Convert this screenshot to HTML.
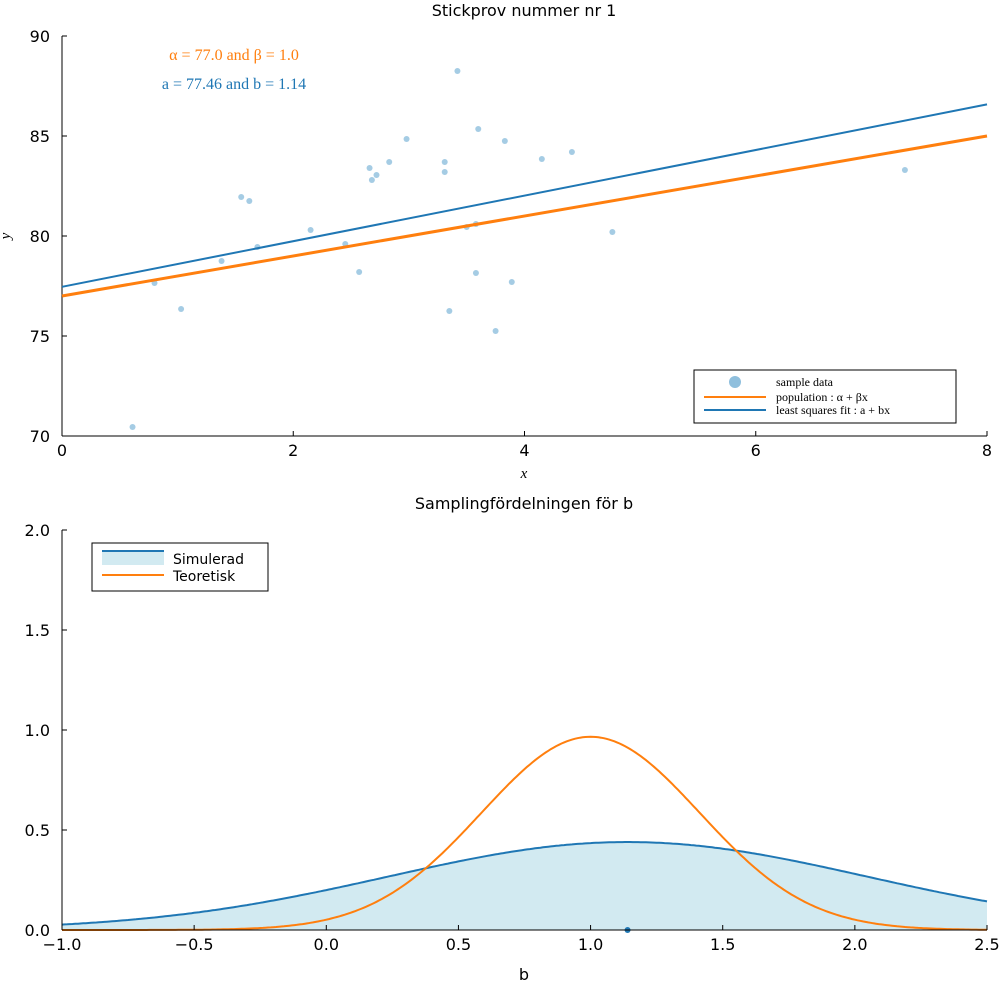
<!DOCTYPE html>
<html><head><meta charset="utf-8"><style>
body{margin:0;background:#fff}
svg text{font-family:"DejaVu Sans","Liberation Sans",sans-serif;}
.serif{font-family:"Liberation Serif","DejaVu Serif",serif;}
</style></head><body>
<svg id="c" width="999" height="999" xmlns="http://www.w3.org/2000/svg"></svg>
<script>
const sampleX=[0.61,0.80,1.03,1.38,1.55,1.62,1.69,2.15,2.45,2.57,2.66,2.68,2.72,2.83,2.98,3.31,3.31,3.35,3.42,3.50,3.58,3.58,3.60,3.75,3.83,3.89,4.15,4.41,4.76,7.29];
const sampleY=[70.45,77.65,76.35,78.75,81.95,81.75,79.45,80.3,79.6,78.2,83.4,82.8,83.05,83.7,84.85,83.7,83.2,76.25,88.25,80.45,80.6,78.15,85.35,75.25,84.75,77.7,83.85,84.2,80.2,83.3];
const popParams=[77.0,1.0];
const fitParams=[77.46,1.14];
const topXTicks=[0,2,4,6,8];
const topYTicks=[70,75,80,85,90];
const simParams=[1.14,0.907];
const theoParams=[1.0,0.413];
const botXTicks=[-1.0,-0.5,0.0,0.5,1.0,1.5,2.0,2.5];
const botYTicks=[0.0,0.5,1.0,1.5,2.0];

const svg=document.getElementById('c');const NS='http://www.w3.org/2000/svg';
function el(t,a,txt){const e=document.createElementNS(NS,t);for(const k in a)e.setAttribute(k,a[k]);if(txt!==undefined)e.textContent=txt;svg.appendChild(e);return e;}
const BLUE='#1f77b4',ORANGE='#ff7f0e';
// top axes
const tx=v=>62+(v-0)*(987-62)/8, ty=v=>436-(v-70)*20;
let e;
e=el('rect',{x:62,y:36,width:925,height:400,fill:'none',stroke:'none'});

e=el('line',{x1:62,y1:436,x2:987,y2:436,stroke:'#000'});
e=el('line',{x1:62,y1:36,x2:62,y2:436,stroke:'#000'});
topXTicks.forEach(v=>{el('line',{x1:tx(v),y1:436,x2:tx(v),y2:431,stroke:'#000'});e=el('text',{x:tx(v),y:456,'font-size':16,'text-anchor':'middle'},String(v));});
topYTicks.forEach(v=>{el('line',{x1:62,y1:ty(v),x2:67,y2:ty(v),stroke:'#000'});e=el('text',{x:50,y:ty(v)+6,'font-size':16,'text-anchor':'end'},String(v));});
e=el('text',{x:524,y:16,'font-size':16,'text-anchor':'middle'},'Stickprov nummer nr 1');
e=el('text',{x:524,y:478,'font-size':15,'text-anchor':'middle','font-style':'italic',class:'serif'},'x');
e=el('text',{x:10,y:236,'font-size':15,'text-anchor':'middle','font-style':'italic',class:'serif',transform:'rotate(-90 10 236)'},'y');
sampleX.forEach((x,i)=>{const c=el('circle',{cx:tx(x),cy:ty(sampleY[i]),r:3,fill:'#8fbfdd',opacity:0.8});});
e=el('line',{x1:tx(0),y1:ty(popParams[0]),x2:tx(8),y2:ty(popParams[0]+8*popParams[1]),stroke:ORANGE,'stroke-width':3});
e=el('line',{x1:tx(0),y1:ty(fitParams[0]),x2:tx(8),y2:ty(fitParams[0]+8*fitParams[1]),stroke:BLUE,'stroke-width':2});
e=el('text',{x:234,y:60,'font-size':16,'text-anchor':'middle',fill:ORANGE,class:'serif'},'α = 77.0 and β = 1.0');
e=el('text',{x:234,y:89,'font-size':16,'text-anchor':'middle',fill:BLUE,class:'serif'},'a = 77.46 and b = 1.14');
e=el('rect',{x:694,y:370,width:262,height:53,fill:'#fff',stroke:'#000'});
el('circle',{cx:735,cy:382,r:6,fill:'#8fbfdd'});
el('line',{x1:704,y1:397,x2:766,y2:397,stroke:ORANGE,'stroke-width':2});
el('line',{x1:704,y1:410,x2:766,y2:410,stroke:BLUE,'stroke-width':2});
[['sample data',386],['population :  α + βx',401],['least squares fit :  a + bx',414]].forEach(t=>{e=el('text',{x:776,y:t[1],'font-size':12,class:'serif'},t[0]);});
// bottom
const bx=v=>62+(v+1)*(987-62)/3.5, by=v=>930-v*200;
const pdf=(x,p)=>Math.exp(-0.5*((x-p[0])/p[1])**2)/(p[1]*Math.sqrt(2*Math.PI));
let sp=[],tp=[];for(let i=0;i<=350;i++){const x=-1+i*0.01;sp.push([bx(x),by(pdf(x,simParams))]);tp.push([bx(x),by(pdf(x,theoParams))]);}
const ps=a=>a.map((p,i)=>(i?'L':'M')+p[0].toFixed(1)+','+p[1].toFixed(1)).join('');
e=el('path',{d:ps(sp)+`L${bx(2.5)},${by(0)}L${bx(-1)},${by(0)}Z`,fill:'#add8e6',opacity:0.55});
e=el('path',{d:ps(sp),fill:'none',stroke:BLUE,'stroke-width':2});
e=el('path',{d:ps(tp),fill:'none',stroke:ORANGE,'stroke-width':2});
e=el('circle',{cx:bx(fitParams[1]),cy:by(0),r:3,fill:BLUE});
e=el('line',{x1:62,y1:930,x2:987,y2:930,stroke:'#000'});
e=el('line',{x1:62,y1:530,x2:62,y2:930,stroke:'#000'});
botXTicks.forEach(v=>{el('line',{x1:bx(v),y1:930,x2:bx(v),y2:925,stroke:'#000'});e=el('text',{x:bx(v),y:950,'font-size':16,'text-anchor':'middle'},(v<0?'−':'')+Math.abs(v).toFixed(1));});
botYTicks.forEach(v=>{el('line',{x1:62,y1:by(v),x2:67,y2:by(v),stroke:'#000'});e=el('text',{x:50,y:by(v)+6,'font-size':16,'text-anchor':'end'},v.toFixed(1));});
e=el('text',{x:524,y:509,'font-size':16,'text-anchor':'middle'},'Samplingfördelningen för b');
e=el('text',{x:524,y:980,'font-size':16,'text-anchor':'middle'},'b');
e=el('rect',{x:92,y:543,width:176,height:48,fill:'#fff',stroke:'#000'});
el('rect',{x:102,y:551,width:62,height:14,fill:'#add8e6',opacity:0.55});
el('line',{x1:102,y1:551,x2:164,y2:551,stroke:BLUE,'stroke-width':2});
el('line',{x1:102,y1:575,x2:164,y2:575,stroke:ORANGE,'stroke-width':2});
e=el('text',{x:173,y:564,'font-size':14},'Simulerad');
e=el('text',{x:173,y:581,'font-size':14},'Teoretisk');
</script>
</body></html>
